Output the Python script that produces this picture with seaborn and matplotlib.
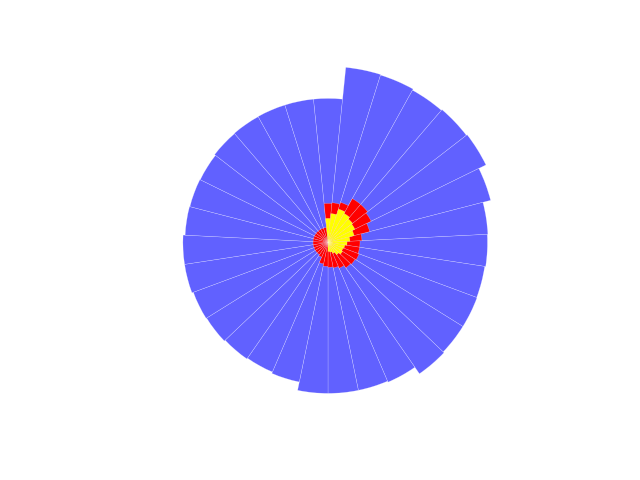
import numpy as np
import matplotlib
matplotlib.use("Agg")
import matplotlib.pyplot as plt
import seaborn as sns

# bar lengths, going clockwise from north
blue_vals = [77.9, 95.2, 94.9, 94.2, 94.7, 95.2, 90.9, 86.6, 86.3, 85.8,
             86.0, 86.0, 86.6, 82.3, 81.7, 81.7, 81.7, 77.1, 76.3, 76.8,
             77.4, 77.7, 78.5, 78.5, 77.4, 77.2, 77.0, 77.6, 77.8, 77.9, 77.9]
red_vals = [21.1, 21.6, 22.7, 27.1, 27.1, 26.0, 23.3, 18.4, 17.3, 17.3,
            17.9, 17.3, 16.8, 15.2, 14.1, 13.5, 13.0, 11.9, 8.7, 8.1,
            8.1, 8.1, 8.1, 8.1, 8.1, 8.1, 8.1, 8.1, 8.1, 8.1, 8.1]
yellow_vals = [13.0, 15.7, 18.9, 17.9, 16.8, 16.2, 14.6, 11.9, 10.3, 9.2,
               8.7, 9.2, 8.1, 6.5, 5.4, 4.9, 0, 0, 0, 0,
               0, 0, 0, 0, 0, 0, 0, 0, 0, 0, 0]

n = len(blue_vals)
theta = np.linspace(0.0, 2 * np.pi, n, endpoint=False)
width = 2 * np.pi / n

sns.set_style("white")
fig = plt.figure(figsize=(6.4, 4.8), dpi=100)
ax = fig.add_subplot(projection="polar")
ax.set_theta_zero_location("N")
ax.set_theta_direction(-1)

# three series drawn on top of each other from the centre
edge = (1, 1, 1, 0.45)
ax.bar(theta, blue_vals, width=width, color="#6161ff", edgecolor=edge, linewidth=0.3)
ax.bar(theta, red_vals, width=width, color="red", edgecolor=edge, linewidth=0.3)
ax.bar(theta, yellow_vals, width=width, color="yellow", edgecolor=edge, linewidth=0.3)

ax.set_ylim(0, 100)
ax.axis("off")

plt.savefig("out.png", dpi=100)
